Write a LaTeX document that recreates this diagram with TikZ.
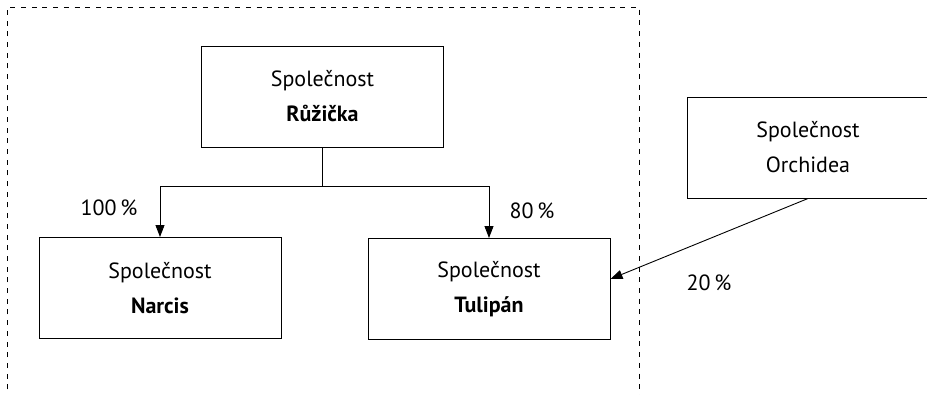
\documentclass[tikz,border=0pt]{standalone}
\usepackage{fontspec}
\setmainfont{PT Sans}
\usetikzlibrary{arrows.meta}
\tikzset{
  firm/.style={draw, line width=1pt, rectangle, minimum width=242pt, minimum height=101pt,
    inner sep=0pt, align=center, font=\fontsize{22}{35}\selectfont},
  conn/.style={line width=0.9pt},
  arr/.style={conn, -{Triangle[length=12pt,width=9pt]}},
  pct/.style={font=\fontsize{22}{24}\selectfont, inner sep=0pt},
  frame/.style={line width=0.9pt, dash pattern=on 5pt off 5.7pt}
}
\begin{document}
\begin{tikzpicture}[x=1pt,y=-1pt]
\clip (0,0) rectangle (927,394);
\fill[white] (0,0) rectangle (927,394);
\draw[frame] (7,400) -- (7,7.5) -- (639.5,7.5) -- (639.5,400);
\node[firm] (rz) at (322.5,96.5) {Společnost\\\textbf{Růžička}};
\node[firm] (na) at (160,288) {Společnost\\\textbf{Narcis}};
\node[firm] (tu) at (489,289) {Společnost\\\textbf{Tulipán}};
\node[firm] (or) at (808,147.5) {Společnost\\Orchidea};
\coordinate (j) at (322.5,186);
\draw[conn] (rz.south) -- (j);
\draw[arr] (j) -| (na.north);
\draw[arr] (j) -| (tu.north);
\draw[arr] (or.south) -- ([yshift=10pt]tu.east);
\node[pct] (p1) at (109,208) {100\,\%};
\node[pct] (p2) at (532,211) {80\,\%};
\node[pct] (p3) at (709,283) {20\,\%};
\end{tikzpicture}
\end{document}
